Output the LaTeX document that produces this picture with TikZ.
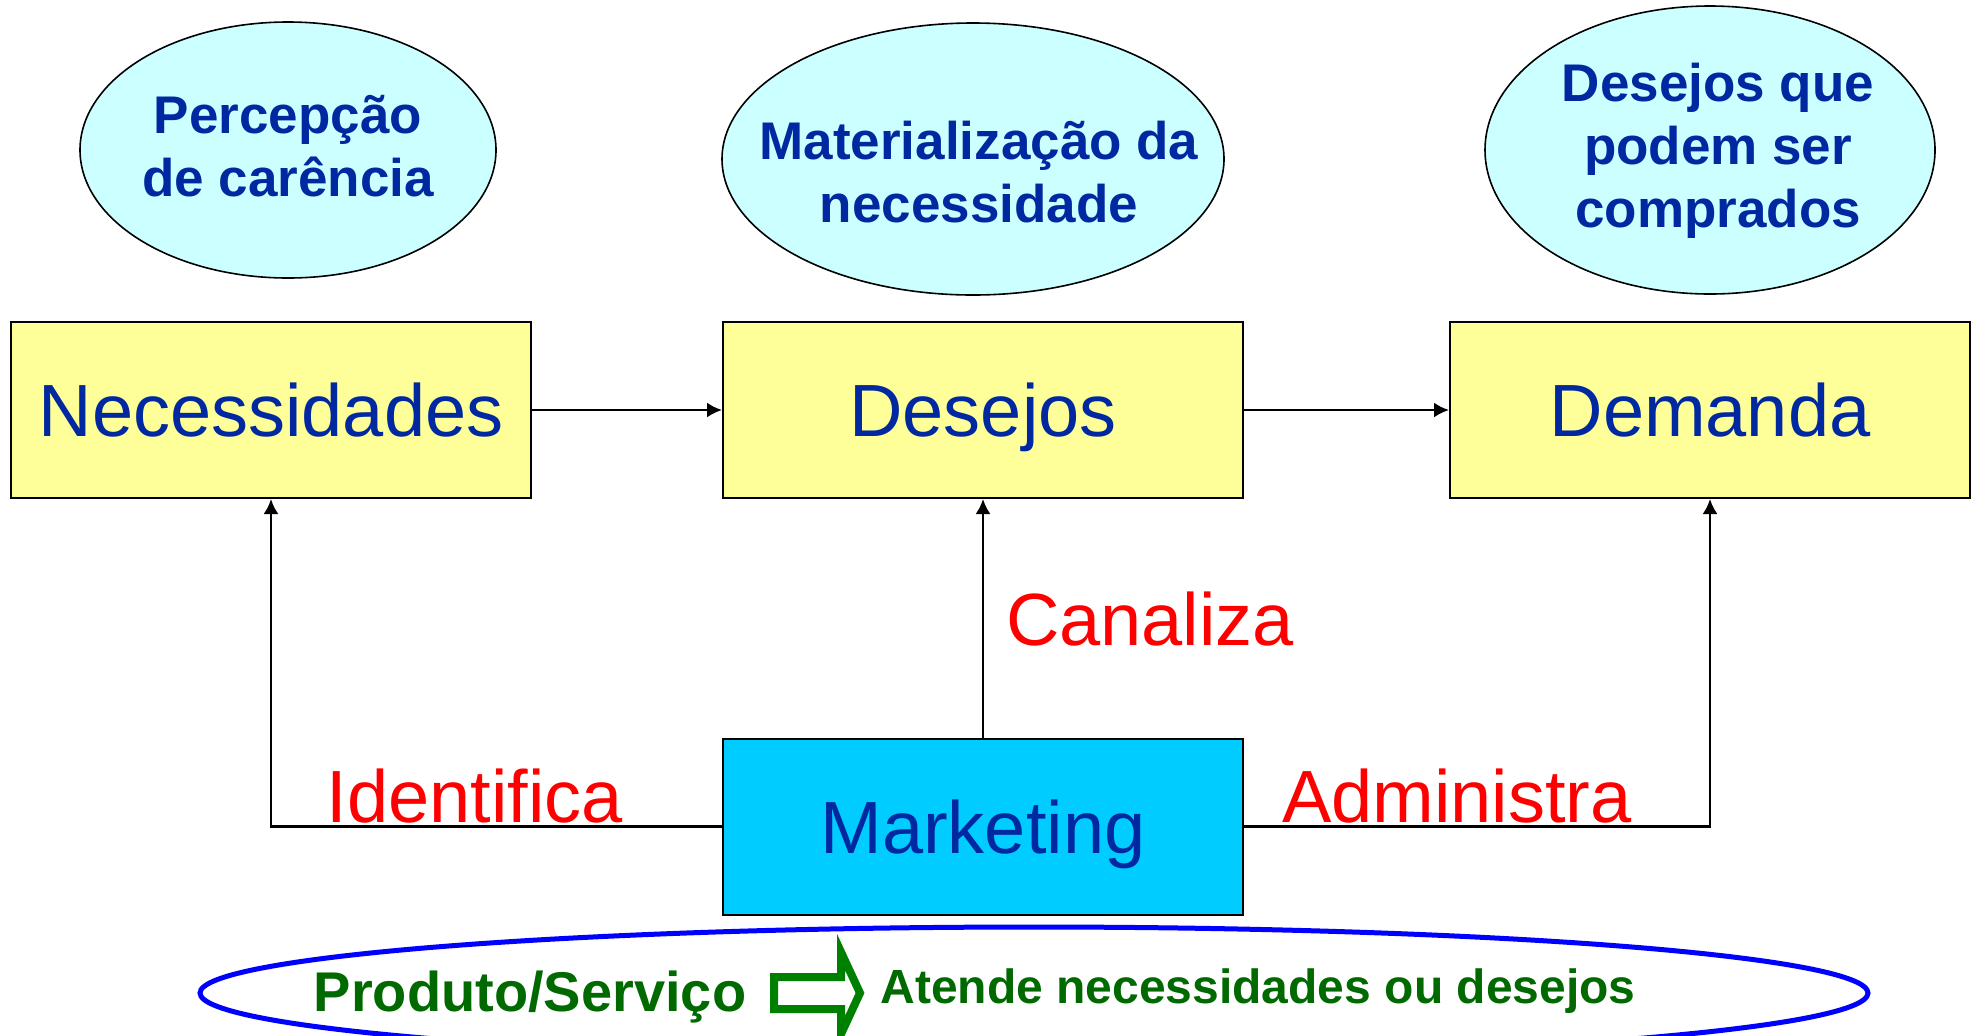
\documentclass[tikz,border=0pt]{standalone}
\usepackage{fontspec}
\setmainfont{Liberation Sans}
\usetikzlibrary{shapes.geometric,arrows.meta}
\definecolor{txtblue}{RGB}{0,40,160}
\definecolor{boxyellow}{RGB}{255,255,153}
\definecolor{ellcyan}{RGB}{204,255,255}
\definecolor{mktcyan}{RGB}{0,204,255}
\definecolor{lblred}{RGB}{255,0,0}
\definecolor{txtgreen}{RGB}{0,105,0}
\definecolor{arrgreen}{RGB}{0,128,0}
\definecolor{ringblue}{RGB}{0,0,255}
\begin{document}
\begin{tikzpicture}[x=0.5pt,y=-0.5pt,
  mainbox/.style={draw=black, line width=1pt, fill=boxyellow, rectangle, inner sep=0pt,
    minimum width=260pt, minimum height=88pt, text=txtblue,
    font=\fontsize{37}{44}\selectfont, text height=26.5pt, text depth=0pt},
  bubble/.style={draw=black, line width=0.8pt, fill=ellcyan, ellipse, inner sep=0pt},
  bubbletext/.style={text=txtblue, align=center, font=\bfseries\fontsize{26.5}{31.5}\selectfont, inner sep=0pt},
  verb/.style={text=lblred, font=\fontsize{37}{44}\selectfont, inner sep=0pt},
  conn/.style={draw=black, line width=1.2pt, -{Latex[length=7.5pt,width=7.5pt]}},
  plainconn/.style={draw=black, line width=1.2pt}
]
\useasboundingbox (0,0) rectangle (1974,1035);
\clip (0,0) rectangle (1974,1035);

% top bubbles
\node[bubble, minimum width=208pt, minimum height=128pt] (e1) at (288,150) {};
\node[bubble, minimum width=251pt, minimum height=136pt] (e2) at (973,159) {};
\node[bubble, minimum width=225pt, minimum height=144pt] (e3) at (1710,150) {};
\node[bubbletext] (t1) at (288,146) {Percepção\\de carência};
\node[bubbletext] (t2) at (979,172) {Materialização da\\necessidade};
\node[bubbletext] (t3) at (1718,151) {Desejos que\\podem ser\\comprados};

% main boxes
\node[mainbox] (nec) at (271,410) {Necessidades};
\node[mainbox] (des) at (983,410) {Desejos};
\node[mainbox] (dem) at (1710,410) {Demanda};
\node[mainbox, fill=mktcyan] (mkt) at (983,826.5) {Marketing};

% connectors
\draw[conn] (nec.east) -- (des.west);
\draw[conn] (des.east) -- (dem.west);
\draw[conn] (mkt.north) -- (des.south);
\draw[conn] (mkt.west) -| (nec.south);
\draw[conn] (mkt.east) -| (dem.south);

% verb labels
\node[verb] (lid) at (475,796) {Identifica};
\node[verb] (lca) at (1150,619) {Canaliza};
\node[verb] (lad) at (1457,796) {Administra};

% bottom ring
\node[draw=ringblue, line width=2.5pt, ellipse, inner sep=0pt,
  minimum width=834pt, minimum height=66pt] (ring) at (1034,993) {};
\node[text=txtgreen, font=\bfseries\fontsize{28}{34}\selectfont, inner sep=0pt, anchor=base] (prod) at (530,1011) {Produto/Serviço};
\draw[draw=arrgreen, line width=4pt, fill=white, line join=miter]
  (774,977) -- (841,977) -- (841,952) -- (860,993) -- (841,1034) -- (841,1009) -- (774,1009) -- cycle;
\node[text=txtgreen, font=\bfseries\fontsize{24}{29}\selectfont, inner sep=0pt, anchor=base] (aten) at (1258,1003) {Atende necessidades ou desejos};
\end{tikzpicture}
\end{document}
